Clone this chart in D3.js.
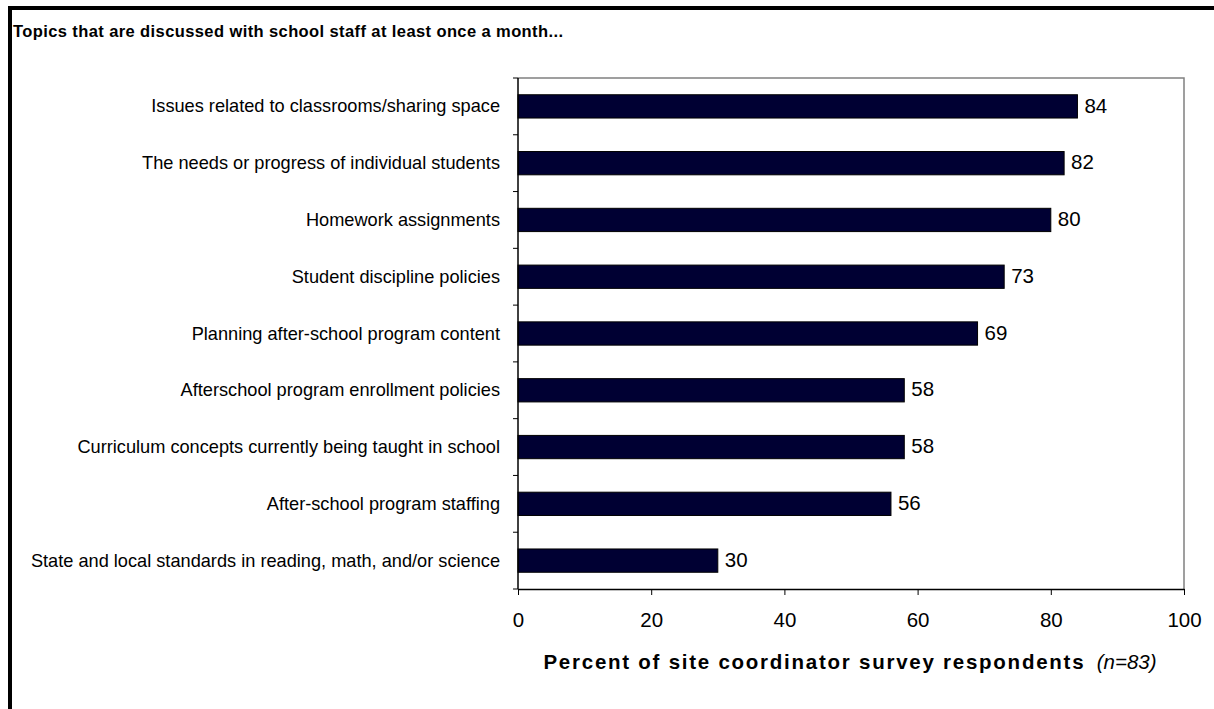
<!DOCTYPE html>
<html>
<head>
<meta charset="utf-8">
<script src="https://cdn.jsdelivr.net/npm/d3@7"></script>
<style>
  html, body { margin: 0; padding: 0; background: #fff; }
  svg { display: block; font-family: Arial, "Liberation Sans", sans-serif; }
</style>
</head>
<body>
<svg id="chart" width="1214" height="709"></svg>
<script>
// Topics discussed with school staff at least once a month
const categories = [
  "Issues related to classrooms/sharing space",
  "The needs or progress of individual students",
  "Homework assignments",
  "Student discipline policies",
  "Planning after-school program content",
  "Afterschool program enrollment policies",
  "Curriculum concepts currently being taught in school",
  "After-school program staffing",
  "State and local standards in reading, math, and/or science"
];
const percents = [84, 82, 80, 73, 69, 58, 58, 56, 30];
const xTicks = [0, 20, 40, 60, 80, 100];

const svg = d3.select("#chart");

// outer frame: heavy rule along the top and left side
svg.append("rect").attr("x", 8).attr("y", 6).attr("width", 1214).attr("height", 4).attr("fill", "#000");
svg.append("rect").attr("x", 8).attr("y", 6).attr("width", 4).attr("height", 709).attr("fill", "#000");

svg.append("text")
  .attr("x", 13).attr("y", 37)
  .attr("font-size", 16.5).attr("font-weight", "bold")
  .attr("letter-spacing", 0.4)
  .text("Topics that are discussed with school staff at least once a month...");

const plot = { left: 518, right: 1184, top: 78, bottom: 589 };

const x = d3.scaleLinear().domain([0, 100]).range([plot.left, plot.right]);
const y = d3.scaleBand().domain(categories).range([plot.top, plot.bottom]).paddingInner(0.59).paddingOuter(0.295);

// plot area outline (top/right in grey)
svg.append("path")
  .attr("d", `M${plot.left},${plot.top}H${plot.right}V${plot.bottom}`)
  .attr("fill", "none").attr("stroke", "#808080").attr("stroke-width", 1.5);

// bars
svg.append("g").selectAll("rect")
  .data(percents)
  .join("rect")
  .attr("x", x(0))
  .attr("y", (d, i) => y(categories[i]))
  .attr("width", d => x(d) - x(0))
  .attr("height", y.bandwidth())
  .attr("fill", "#000033")
  .attr("stroke", "#000").attr("stroke-width", 1);

// value labels
svg.append("g").selectAll("text")
  .data(percents)
  .join("text")
  .attr("x", d => x(d) + 7)
  .attr("y", (d, i) => y(categories[i]) + y.bandwidth() / 2)
  .attr("dy", "0.3em")
  .attr("font-size", 20.5)
  .text(d => d);

// category axis: ticks at band edges
const edges = d3.range(categories.length + 1).map(i => plot.top + i * (plot.bottom - plot.top) / categories.length);
const yAxis = svg.append("g");
yAxis.append("line").attr("x1", plot.left).attr("x2", plot.left).attr("y1", plot.top).attr("y2", plot.bottom)
  .attr("stroke", "#000").attr("stroke-width", 1.5);
yAxis.selectAll("line.tick").data(edges).join("line").attr("class", "tick")
  .attr("x1", plot.left - 5).attr("x2", plot.left).attr("y1", d => d).attr("y2", d => d)
  .attr("stroke", "#000").attr("stroke-width", 1);
yAxis.selectAll("text").data(categories).join("text")
  .attr("x", 500)
  .attr("y", d => y(d) + y.bandwidth() / 2)
  .attr("dy", "0.33em")
  .attr("text-anchor", "end")
  .attr("font-size", 18.2)
  .text(d => d);

// value axis
const xAxis = svg.append("g")
  .attr("transform", `translate(0,${plot.bottom})`)
  .call(d3.axisBottom(x).tickValues(xTicks).tickSize(6).tickPadding(17).tickSizeOuter(0));
xAxis.select(".domain").attr("stroke", "#000").attr("stroke-width", 1.5);
xAxis.selectAll(".tick line").attr("stroke", "#000");
xAxis.selectAll(".tick text").attr("font-size", 20.5).attr("fill", "#000")
  .attr("font-family", "Arial, 'Liberation Sans', sans-serif");

const xt = svg.append("text")
  .attr("x", (plot.left + plot.right) / 2 - 1).attr("y", 669)
  .attr("text-anchor", "middle")
  .attr("font-size", 20.5);
xt.append("tspan").attr("font-weight", "bold").attr("letter-spacing", 1.75)
  .text("Percent of site coordinator survey respondents");
xt.append("tspan").attr("font-style", "italic").text("\u00a0\u00a0(n=83)");
</script>
</body>
</html>
